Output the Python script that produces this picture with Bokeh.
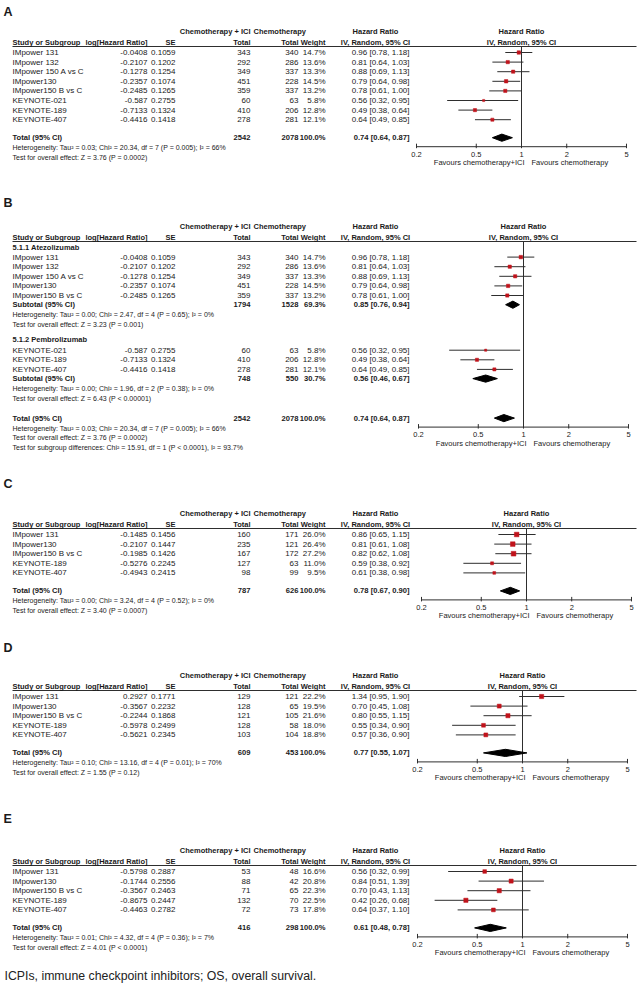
import math
from bokeh.plotting import figure
from bokeh.models import Range1d, LogScale, ColumnDataSource
from bokeh.core.properties import value
from bokeh.embed import file_html
from bokeh.resources import INLINE

# ---------------- data ----------------
HR_TICKS = [0.2, 0.5, 1, 2, 5]
HR_TICK_LABELS = ["0.2", "0.5", "1", "2", "5"]
FAVOURS = ["Favours chemotherapy+ICI", "Favours chemotherapy"]
HEAD1 = ["Chemotherapy + ICI", "Chemotherapy", "Hazard Ratio", "Hazard Ratio"]
HEAD2 = ["Study or Subgroup", "log[Hazard Ratio]", "SE", "Total", "Total", "Weight",
         "IV, Random, 95% CI", "IV, Random, 95% CI"]
FOOTER = "ICPIs, immune checkpoint inhibitors; OS, overall survival."

A_study = ["IMpower 131", "IMpower 132", "IMpower 150 A vs C", "IMpower130",
           "IMpower150 B vs C", "KEYNOTE-021", "KEYNOTE-189", "KEYNOTE-407"]
A_loghr = ["-0.0408", "-0.2107", "-0.1278", "-0.2357", "-0.2485", "-0.587", "-0.7133", "-0.4416"]
A_se = ["0.1059", "0.1202", "0.1254", "0.1074", "0.1265", "0.2755", "0.1324", "0.1418"]
A_n_ici = [343, 292, 349, 451, 359, 60, 410, 278]
A_n_chemo = [340, 286, 337, 228, 337, 63, 206, 281]
A_weight = [14.7, 13.6, 13.3, 14.5, 13.2, 5.8, 12.8, 12.1]
A_hr = [0.96, 0.81, 0.88, 0.79, 0.78, 0.56, 0.49, 0.64]
A_lo = [0.78, 0.64, 0.69, 0.64, 0.61, 0.32, 0.38, 0.49]
A_hi = [1.18, 1.03, 1.13, 0.98, 1.00, 0.95, 0.64, 0.85]
A_total = [2542, 2078, 100.0, 0.74, 0.64, 0.87]
A_stats = ["Heterogeneity: Tau² = 0.03; Chi² = 20.34, df = 7 (P = 0.005); I² = 66%",
           "Test for overall effect: Z = 3.76 (P = 0.0002)"]

B_groups = ["5.1.1 Atezolizumab", "5.1.2 Pembrolizumab"]
B_group_sizes = [5, 3]
B_subtotals = [[1794, 1528, 69.3, 0.85, 0.76, 0.94],
               [748, 550, 30.7, 0.56, 0.46, 0.67]]
B_sub_stats = [["Heterogeneity: Tau² = 0.00; Chi² = 2.47, df = 4 (P = 0.65); I² = 0%",
                "Test for overall effect: Z = 3.23 (P = 0.001)"],
               ["Heterogeneity: Tau² = 0.00; Chi² = 1.96, df = 2 (P = 0.38); I² = 0%",
                "Test for overall effect: Z = 6.43 (P < 0.00001)"]]
B_total = [2542, 2078, 100.0, 0.74, 0.64, 0.87]
B_stats = ["Heterogeneity: Tau² = 0.03; Chi² = 20.34, df = 7 (P = 0.005); I² = 66%",
           "Test for overall effect: Z = 3.76 (P = 0.0002)",
           "Test for subgroup differences: Chi² = 15.91, df = 1 (P < 0.0001), I² = 93.7%"]

C_study = ["IMpower 131", "IMpower130", "IMpower150 B vs C", "KEYNOTE-189", "KEYNOTE-407"]
C_loghr = ["-0.1485", "-0.2107", "-0.1985", "-0.5276", "-0.4943"]
C_se = ["0.1456", "0.1447", "0.1426", "0.2245", "0.2415"]
C_n_ici = [160, 235, 167, 127, 98]
C_n_chemo = [171, 121, 172, 63, 99]
C_weight = [26.0, 26.4, 27.2, 11.0, 9.5]
C_hr = [0.86, 0.81, 0.82, 0.59, 0.61]
C_lo = [0.65, 0.61, 0.62, 0.38, 0.38]
C_hi = [1.15, 1.08, 1.08, 0.92, 0.98]
C_total = [787, 626, 100.0, 0.78, 0.67, 0.90]
C_stats = ["Heterogeneity: Tau² = 0.00; Chi² = 3.24, df = 4 (P = 0.52); I² = 0%",
           "Test for overall effect: Z = 3.40 (P = 0.0007)"]

D_study = ["IMpower 131", "IMpower130", "IMpower150 B vs C", "KEYNOTE-189", "KEYNOTE-407"]
D_loghr = ["0.2927", "-0.3567", "-0.2244", "-0.5978", "-0.5621"]
D_se = ["0.1771", "0.2232", "0.1868", "0.2499", "0.2345"]
D_n_ici = [129, 128, 121, 128, 103]
D_n_chemo = [121, 65, 105, 58, 104]
D_weight = [22.2, 19.5, 21.6, 18.0, 18.8]
D_hr = [1.34, 0.70, 0.80, 0.55, 0.57]
D_lo = [0.95, 0.45, 0.55, 0.34, 0.36]
D_hi = [1.90, 1.08, 1.15, 0.90, 0.90]
D_total = [609, 453, 100.0, 0.77, 0.55, 1.07]
D_stats = ["Heterogeneity: Tau² = 0.10; Chi² = 13.16, df = 4 (P = 0.01); I² = 70%",
           "Test for overall effect: Z = 1.55 (P = 0.12)"]

E_study = ["IMpower 131", "IMpower130", "IMpower150 B vs C", "KEYNOTE-189", "KEYNOTE-407"]
E_loghr = ["-0.5798", "-0.1744", "-0.3567", "-0.8675", "-0.4463"]
E_se = ["0.2887", "0.2556", "0.2463", "0.2447", "0.2782"]
E_n_ici = [53, 88, 71, 132, 72]
E_n_chemo = [48, 42, 65, 70, 73]
E_weight = [16.6, 20.8, 22.3, 22.5, 17.8]
E_hr = [0.56, 0.84, 0.70, 0.42, 0.64]
E_lo = [0.32, 0.51, 0.43, 0.26, 0.37]
E_hi = [0.99, 1.39, 1.13, 0.68, 1.10]
E_total = [416, 298, 100.0, 0.61, 0.48, 0.78]
E_stats = ["Heterogeneity: Tau² = 0.01; Chi² = 4.32, df = 4 (P = 0.36); I² = 7%",
           "Test for overall effect: Z = 4.01 (P < 0.0001)"]

# ---------------- layout / style ----------------
FONT = "Liberation Sans"
TXT = "#1a1a1a"
RED = "#c0131b"
DARK = "#2e2e2e"
ROW = 9.6
SQ_K = 0.9
DH = 3.6

W, H = 640, 988
X_MIN, X_MAX = 0, W
Y_MIN, Y_MAX = 0, H

# one_x: pixel position of HR = 1 for each panel's forest plot
LAYOUT = {
    "A": dict(label_y=11, top=31, one_x=521),
    "B": dict(label_y=202, top=226, one_x=523),
    "C": dict(label_y=483, top=513, one_x=526),
    "D": dict(label_y=647, top=675, one_x=522),
    "E": dict(label_y=818, top=850, one_x=522),
}
C_NAME, C_LOGHR, C_SE, C_ICI, C_CHEMO_H, C_CHEMO = 12, 147, 175, 250, 253, 298
C_W, C_HRC, C_HRR, C_LINE_END = 325, 375, 409, 636
HR_K = 65.24  # px per natural-log unit of the hazard ratio axis

p = figure(width=W, height=H,
           x_range=Range1d(X_MIN, X_MAX), y_range=Range1d(Y_MAX, Y_MIN),
           x_axis_type=None, y_axis_type=None, toolbar_location=None,
           output_backend="svg", min_border=0, outline_line_color=None)
p.background_fill_color = "white"
p.border_fill_color = "white"

extra_r, extra_s = {}, {}
for key, L in LAYOUT.items():
    x1 = L["one_x"]
    extra_r["hr_" + key] = Range1d(start=math.exp((X_MIN - x1) / HR_K),
                                   end=math.exp((X_MAX - x1) / HR_K))
    extra_s["hr_" + key] = LogScale()
p.extra_x_ranges = extra_r
p.extra_x_scales = extra_s

TEXT = {}


def txt(x, y, s, align="left", bold=False, size=8.0, color=TXT):
    key = (align, bold, round(size, 2), color)
    d = TEXT.setdefault(key, {"x": [], "y": [], "text": []})
    d["x"].append(x)
    d["y"].append(y)
    d["text"].append(s)


def fmt_hr(h, lo, hi):
    return f"{h:.2f} [{lo:.2f}, {hi:.2f}]"


FOREST = {}
HLINES = {"x0": [], "x1": [], "y": []}


def panel_setup(key):
    L = LAYOUT[key]
    FOREST[key] = dict(ci_lo=[], ci_hi=[], ci_y=[], sq_x=[], sq_y=[], sq_s=[], dxs=[], dys=[])
    top = L["top"]
    txt(3, L["label_y"], key, "left", True, 12.5)
    hs = 7.5
    y1, y2 = top, top + 11
    txt(C_ICI, y1, HEAD1[0], "right", True, hs)
    txt(C_CHEMO_H, y1, HEAD1[1], "left", True, hs)
    txt(C_HRC, y1, HEAD1[2], "center", True, hs)
    txt(L["one_x"], y1, HEAD1[3], "center", True, hs)
    txt(C_NAME, y2, HEAD2[0], "left", True, hs)
    txt(C_LOGHR, y2, HEAD2[1], "right", True, hs)
    txt(C_SE, y2, HEAD2[2], "right", True, hs)
    txt(C_ICI, y2, HEAD2[3], "right", True, hs)
    txt(C_CHEMO, y2, HEAD2[4], "right", True, hs)
    txt(C_W, y2, HEAD2[5], "right", True, hs)
    txt(C_HRC, y2, HEAD2[6], "center", True, hs)
    txt(L["one_x"], y2, HEAD2[7], "center", True, hs)
    HLINES["x0"].append(C_NAME)
    HLINES["x1"].append(C_LINE_END)
    HLINES["y"].append(top + 15)
    return L


def study_row(key, y, name, lh, se, ni, nc, w, h, lo, hi):
    s = 8.0
    txt(C_NAME, y, name, "left", False, s)
    txt(C_LOGHR, y, lh, "right", False, s)
    txt(C_SE, y, se, "right", False, s)
    txt(C_ICI, y, str(ni), "right", False, s)
    txt(C_CHEMO, y, str(nc), "right", False, s)
    txt(C_W, y, f"{w:.1f}%", "right", False, s)
    txt(C_HRR, y, fmt_hr(h, lo, hi), "right", False, s)
    F = FOREST[key]
    F["ci_lo"].append(lo)
    F["ci_hi"].append(hi)
    F["ci_y"].append(y)
    F["sq_x"].append(h)
    F["sq_y"].append(y)
    F["sq_s"].append(SQ_K * math.sqrt(w))


def total_row(key, y, label, tot):
    ni, nc, w, h, lo, hi = tot
    s = 7.6
    txt(C_NAME, y, label, "left", True, s)
    txt(C_ICI, y, str(ni), "right", True, s)
    txt(C_CHEMO, y, str(nc), "right", True, s)
    txt(C_W, y, f"{w:.1f}%", "right", True, s)
    txt(C_HRR, y, fmt_hr(h, lo, hi), "right", True, s)
    F = FOREST[key]
    F["dxs"].append([lo, h, hi, h])
    F["dys"].append([y, y - DH, y, y + DH])


def panel_forest(key, line_y, axis_y):
    rn = "hr_" + key
    F = FOREST[key]
    n = len(HR_TICKS)
    p.segment(x0=[1], x1=[1], y0=[line_y], y1=[axis_y], x_range_name=rn,
              line_color=DARK, line_width=1)
    p.segment(x0=F["ci_lo"], x1=F["ci_hi"], y0=F["ci_y"], y1=F["ci_y"], x_range_name=rn,
              line_color=DARK, line_width=1)
    p.scatter(x=F["sq_x"], y=F["sq_y"], size=F["sq_s"], marker="square", x_range_name=rn,
              fill_color=RED, line_color=RED, line_width=0.5)
    p.patches(xs=F["dxs"], ys=F["dys"], x_range_name=rn, fill_color="black", line_color="black")
    p.segment(x0=[HR_TICKS[0]], x1=[HR_TICKS[-1]], y0=[axis_y], y1=[axis_y], x_range_name=rn,
              line_color=DARK, line_width=1)
    p.segment(x0=HR_TICKS, x1=HR_TICKS, y0=[axis_y - 3] * n, y1=[axis_y + 1.5] * n,
              x_range_name=rn, line_color=DARK, line_width=1)
    common = dict(x_range_name=rn, text_baseline="middle", text_font=value(FONT),
                  text_font_size=value("7.5px"), text_color=TXT)
    p.text(x=HR_TICKS, y=[axis_y + 7.5] * n, text=HR_TICK_LABELS, text_align="center", **common)
    p.text(x=[1], y=[axis_y + 16], text=[FAVOURS[0]], text_align="right", x_offset=3, **common)
    p.text(x=[1], y=[axis_y + 16], text=[FAVOURS[1]], text_align="left", x_offset=10, **common)


def standard_panel(key, study, loghr, se, nici, nch, w, hr, lo, hi, total, stats):
    L = panel_setup(key)
    y = L["top"] + 21
    for i in range(len(study)):
        study_row(key, y, study[i], loghr[i], se[i], nici[i], nch[i], w[i], hr[i], lo[i], hi[i])
        y += ROW
    y += 18 - ROW
    total_row(key, y, "Total (95% CI)", total)
    sy = y + 10
    for s in stats:
        txt(C_NAME, sy, s, "left", False, 7.0)
        sy += 9.5
    panel_forest(key, L["top"] + 15, y + 9)


standard_panel("A", A_study, A_loghr, A_se, A_n_ici, A_n_chemo, A_weight, A_hr, A_lo, A_hi, A_total, A_stats)

# panel B (subgroups, same trials as A)
LB = panel_setup("B")
y = LB["top"] + 21
idx = 0
for g in range(len(B_groups)):
    if g > 0:
        y += 15
    txt(C_NAME, y, B_groups[g], "left", True, 7.5)
    y += ROW if g == 0 else 11
    for j in range(B_group_sizes[g]):
        study_row("B", y, A_study[idx], A_loghr[idx], A_se[idx], A_n_ici[idx],
                  A_n_chemo[idx], A_weight[idx], A_hr[idx], A_lo[idx], A_hi[idx])
        idx += 1
        y += ROW
    y += 9.2 - ROW
    total_row("B", y, "Subtotal (95% CI)", B_subtotals[g])
    y += 10
    txt(C_NAME, y, B_sub_stats[g][0], "left", False, 7.0)
    y += 9.5
    txt(C_NAME, y, B_sub_stats[g][1], "left", False, 7.0)
y += 20
total_row("B", y, "Total (95% CI)", B_total)
sy = y + 10
for s in B_stats:
    txt(C_NAME, sy, s, "left", False, 7.0)
    sy += 9.5
panel_forest("B", LB["top"] + 15, y + 9)

standard_panel("C", C_study, C_loghr, C_se, C_n_ici, C_n_chemo, C_weight, C_hr, C_lo, C_hi, C_total, C_stats)
standard_panel("D", D_study, D_loghr, D_se, D_n_ici, D_n_chemo, D_weight, D_hr, D_lo, D_hi, D_total, D_stats)
standard_panel("E", E_study, E_loghr, E_se, E_n_ici, E_n_chemo, E_weight, E_hr, E_lo, E_hi, E_total, E_stats)

txt(4, 975, FOOTER, "left", False, 12.3, "#222222")

# header rules
p.segment(x0=HLINES["x0"], x1=HLINES["x1"], y0=HLINES["y"], y1=HLINES["y"],
          line_color=DARK, line_width=1.1)

for (align, bold, size, color), d in TEXT.items():
    p.text(x="x", y="y", text="text", source=ColumnDataSource(d), text_align=align,
           text_baseline="middle", text_font=value(FONT), text_font_size=value(f"{size}px"),
           text_font_style="bold" if bold else "normal", text_color=color)

open("out.html", "w").write(file_html(p, INLINE))
